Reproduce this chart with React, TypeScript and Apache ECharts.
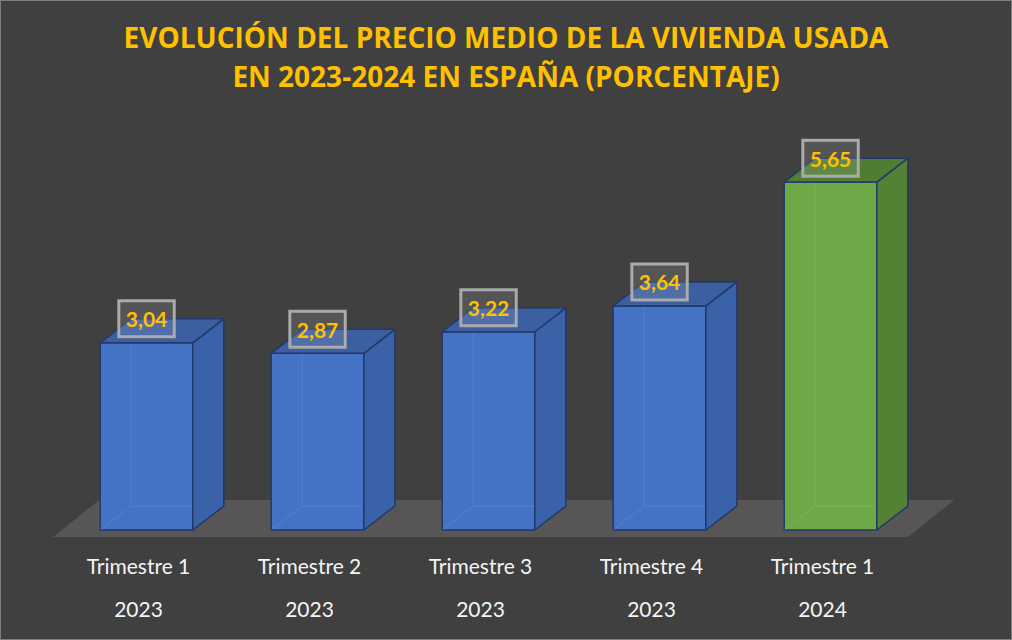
import React, { useEffect, useRef } from "react";
import * as echarts from "echarts";

const titleLines = [
  "EVOLUCIÓN DEL PRECIO MEDIO DE LA VIVIENDA USADA",
  "EN 2023-2024 EN ESPAÑA (PORCENTAJE)",
];
const quarters = ["Trimestre 1", "Trimestre 2", "Trimestre 3", "Trimestre 4", "Trimestre 1"];
const years = ["2023", "2023", "2023", "2023", "2024"];
const values = [3.04, 2.87, 3.22, 3.64, 5.65];
const palettes = [
  { front: "#4472c4", side: "#3a62a8", top: "#3b5fa0" },
  { front: "#4472c4", side: "#3a62a8", top: "#3b5fa0" },
  { front: "#4472c4", side: "#3a62a8", top: "#3b5fa0" },
  { front: "#4472c4", side: "#3a62a8", top: "#3b5fa0" },
  { front: "#6ea947", side: "#548235", top: "#4f7d31" },
];

const FONT = "Lato, 'Open Sans', sans-serif";

export default function App() {
  const ref = useRef<HTMLDivElement>(null);
  useEffect(() => {
    if (!ref.current) return;
    const chart = echarts.init(ref.current, undefined, { renderer: "svg" });
    const categories = quarters.map((q, i) => q + "\n" + years[i]);

    const floorRender = (params: any, api: any) => {
      const cs = params.coordSys;
      const base = api.coord([0, 0]);
      const yFront = base[1] + 7;
      const band = api.size([1, 0])[0];
      const dx = band * 0.27;
      const yBack = yFront - 37;
      return {
        type: "polygon",
        shape: {
          points: [
            [cs.x, yFront],
            [cs.x + dx, yBack],
            [cs.x + cs.width + dx, yBack],
            [cs.x + cs.width, yFront],
          ],
        },
        style: { fill: "#575555" },
        silent: true,
      };
    };

    const barRender = (params: any, api: any) => {
      const idx = api.value(0);
      const val = api.value(1);
      const base = api.coord([idx, 0]);
      const topP = api.coord([idx, val]);
      const band = api.size([1, 0])[0];
      const w = band * 0.542;
      const off = band * 0.047;
      const dx = band * 0.181;
      const dy = dx * 0.774;
      const x0 = base[0] + off - w / 2;
      const x1 = x0 + w;
      const yb = base[1];
      const yt = topP[1];
      const pal = palettes[params.dataIndex];
      const edge = "#22396a";
      const label = val.toFixed(2).replace(".", ",");
      return {
        type: "group",
        children: [
          {
            type: "polygon",
            shape: { points: [[x0, yt], [x1, yt], [x1, yb], [x0, yb]] },
            style: { fill: pal.front, stroke: edge, lineWidth: 1.5 },
          },
          {
            type: "polyline",
            shape: { points: [[x0, yb], [x0 + dx, yb - dy], [x1 + dx, yb - dy]] },
            style: { fill: null, stroke: "rgba(255,255,255,0.10)", lineWidth: 1 },
          },
          {
            type: "line",
            shape: { x1: x0 + dx, y1: yb - dy, x2: x0 + dx, y2: yt - dy },
            style: { stroke: "rgba(255,255,255,0.10)", lineWidth: 1 },
          },
          {
            type: "polygon",
            shape: { points: [[x1, yt], [x1 + dx, yt - dy], [x1 + dx, yb - dy], [x1, yb]] },
            style: { fill: pal.side, stroke: edge, lineWidth: 1.5, lineJoin: "round" },
          },
          {
            type: "polygon",
            shape: { points: [[x0, yt], [x0 + dx, yt - dy], [x1 + dx, yt - dy], [x1, yt]] },
            style: { fill: pal.top, stroke: edge, lineWidth: 1.5, lineJoin: "round" },
          },
          {
            type: "text",
            x: (x0 + x1) / 2,
            y: yt - dy,
            style: {
              text: label,
              fill: "#ffc000",
              font: "bold 21px " + FONT,
              align: "center",
              verticalAlign: "middle",
              backgroundColor: "rgba(200,200,200,0.16)",
              borderColor: "#a8a8a8",
              borderWidth: 1.5,
              padding: [6, 7, 6, 7],
              lineHeight: 24,
            },
          },
        ],
      };
    };

    chart.setOption({
      animation: false,
      backgroundColor: "#404040",
      title: {
        text: titleLines.join("\n"),
        left: "center",
        top: 11,
        textStyle: {
          color: "#ffc000",
          fontFamily: "'Open Sans', Lato, sans-serif",
          fontWeight: "bold",
          fontSize: 28,
          lineHeight: 39,
        },
      },
      grid: { left: 52, right: 103, top: 98, bottom: 109 },
      xAxis: {
        type: "category",
        data: categories,
        axisLine: { show: false },
        axisTick: { show: false },
        axisLabel: {
          color: "#f4f4f4",
          fontFamily: FONT,
          fontSize: 21,
          lineHeight: 43,
          margin: 14,
        },
      },
      yAxis: {
        type: "value",
        min: 0,
        max: 7,
        show: false,
        splitLine: { show: false },
      },
      series: [
        {
          type: "custom",
          renderItem: floorRender,
          data: [[0, 0]],
          z: 1,
          silent: true,
        },
        {
          type: "custom",
          renderItem: barRender,
          data: values.map((v, i) => [i, v]),
          z: 2,
        },
      ],
    });
    return () => chart.dispose();
  }, []);
  return (
    <div
      ref={ref}
      style={{
        position: "fixed",
        left: 0,
        top: 0,
        width: 1012,
        height: 640,
        boxSizing: "border-box",
        border: "1px solid #7f7f7f",
      }}
    />
  );
}
